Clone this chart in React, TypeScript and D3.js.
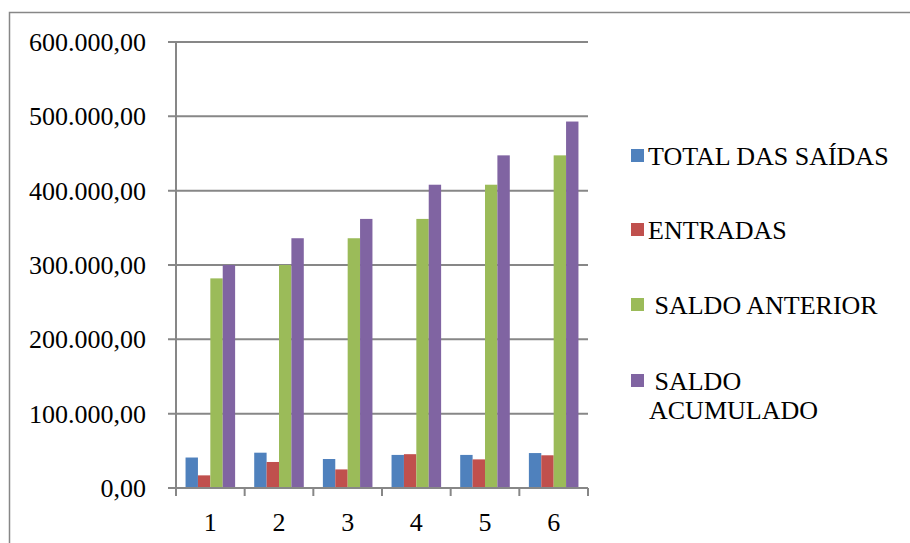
import * as d3 from 'd3';

const categories = ['1', '2', '3', '4', '5', '6'];
const seriesNames = ['TOTAL DAS SAÍDAS', 'ENTRADAS', ' SALDO ANTERIOR', ' SALDO ACUMULADO'];
const totalSaidas = [41000, 47500, 39000, 44500, 44500, 47000];
const entradas = [17000, 35000, 25000, 45500, 38500, 44000];
const saldoAnterior = [282000, 300000, 336000, 362000, 408000, 447500];
const saldoAcumulado = [300000, 336000, 362000, 408000, 447500, 493000];
const yTicks = [0, 100000, 200000, 300000, 400000, 500000, 600000];
const colors = ['#4F81BD', '#C0504D', '#9BBB59', '#8064A2'];

const width = 910;
const height = 543;
const margin = { top: 42, left: 176, right: 322, bottom: 55 };
const innerW = width - margin.left - margin.right;
const innerH = height - margin.top - margin.bottom;
const axisColor = '#878787';
const fontSize = 26;

const locale = d3.formatLocale({ decimal: ',', thousands: '.', grouping: [3], currency: ['R$', ''] });
const fmt = locale.format(',.2f');

export default function App() {
  const x = d3.scaleBand().domain(categories).range([0, innerW]).padding(0);
  const x1 = d3.scaleBand<number>()
    .domain([0, 1, 2, 3])
    .range([0, x.bandwidth()])
    .paddingInner(0)
    .paddingOuter(0.77);
  const y = d3.scaleLinear().domain([0, 600000]).range([innerH, 0]);

  const allSeries = [totalSaidas, entradas, saldoAnterior, saldoAcumulado];
  const tickPos = categories.map(c => x(c) || 0).concat([innerW]);
  const legendY = [156, 230, 305, 381];

  return (
    <svg width={width} height={height} style={{ position: 'absolute', left: 0, top: 0, fontFamily: 'Times New Roman' }}>
      {/* chart frame */}
      <rect x={9.5} y={12.5} width={1000} height={700} fill="#fff" stroke={axisColor} strokeWidth={1.5} />

      <g transform={`translate(${margin.left}, ${margin.top})`}>
        {yTicks.map(t => (
          <line key={t} x1={-8} x2={innerW} y1={y(t)} y2={y(t)} stroke={axisColor} strokeWidth={2} />
        ))}

        {categories.map((c, i) => (
          <g key={c} transform={`translate(${x(c)}, 0)`}>
            {allSeries.map((s, k) => (
              <rect
                key={k}
                x={x1(k)}
                width={x1.bandwidth()}
                y={y(s[i])}
                height={innerH - y(s[i])}
                fill={colors[k]}
              />
            ))}
          </g>
        ))}

        <line x1={0} x2={0} y1={0} y2={innerH} stroke={axisColor} strokeWidth={2} />
        <line x1={0} x2={innerW} y1={innerH} y2={innerH} stroke={axisColor} strokeWidth={2} />
        {tickPos.map((p, i) => (
          <line key={i} x1={p} x2={p} y1={innerH} y2={innerH + 8} stroke={axisColor} strokeWidth={2} />
        ))}
      </g>

      {yTicks.map(t => (
        <text key={t} x={margin.left - 30} y={margin.top + y(t) + 9} textAnchor="end" fontSize={fontSize} style={{ fontFamily: 'Times New Roman' }}>
          {fmt(t)}
        </text>
      ))}
      {categories.map(c => (
        <text key={c} x={margin.left + (x(c) || 0) + x.bandwidth() / 2} y={margin.top + innerH + 43}
          textAnchor="middle" fontSize={fontSize} style={{ fontFamily: 'Times New Roman' }}>
          {c}
        </text>
      ))}

      {/* legend */}
      {seriesNames.map((name, i) => (
        <rect key={name} x={631} y={legendY[i] - 7} width={13} height={13} fill={colors[i]} />
      ))}
      {seriesNames.map((name, i) => (
        <text key={name} x={648} y={legendY[i] + 9} fontSize={fontSize} style={{ fontFamily: 'Times New Roman', whiteSpace: 'pre' }}>
          {i === 3 ? ' SALDO' : name}
        </text>
      ))}
      <text x={649} y={legendY[3] + 38} fontSize={fontSize} style={{ fontFamily: 'Times New Roman' }}>
        ACUMULADO
      </text>
    </svg>
  );
}
